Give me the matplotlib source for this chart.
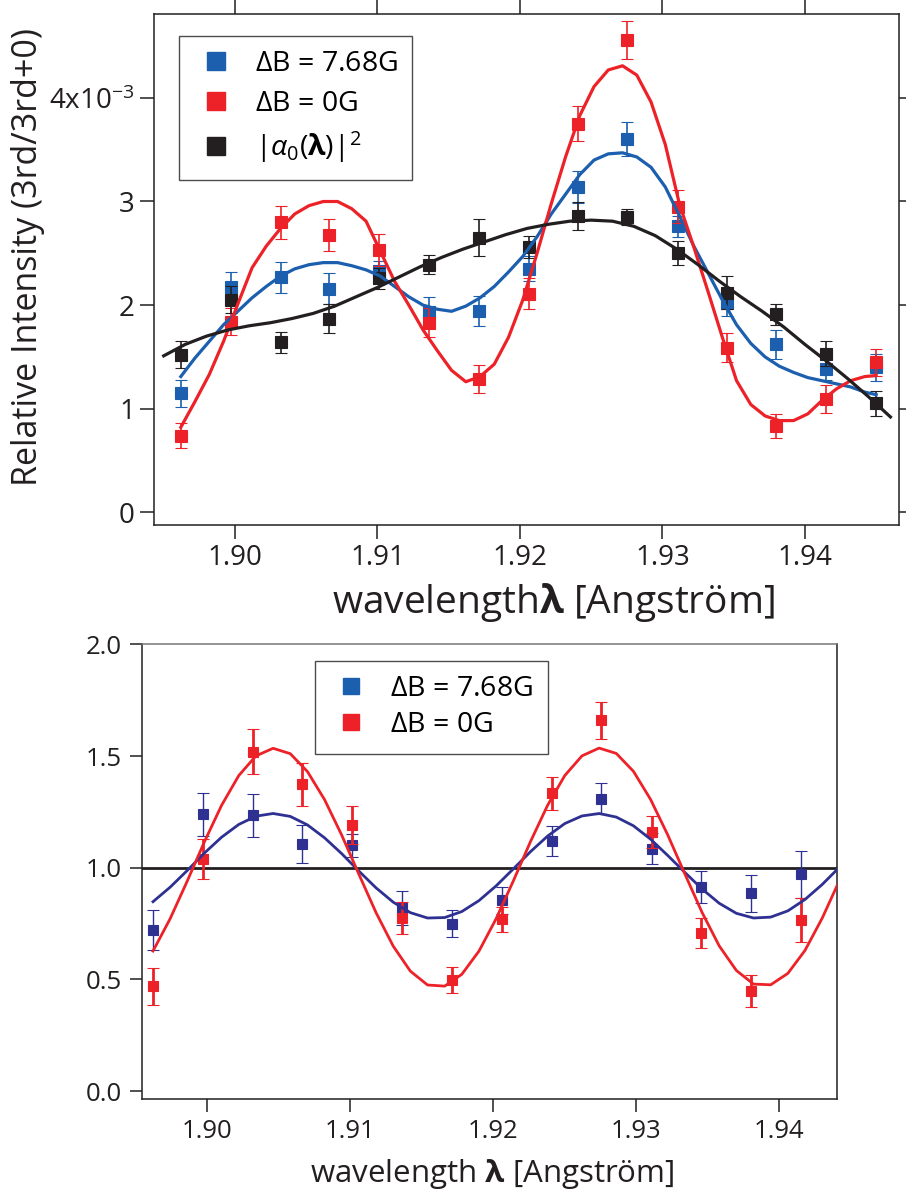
import matplotlib
matplotlib.use("Agg")
import matplotlib.pyplot as plt
from matplotlib.lines import Line2D

# ------------------------------------------------------------
# Fonts
# ------------------------------------------------------------
plt.rcParams['font.family'] = ['Open Sans', 'DejaVu Sans']
plt.rcParams['mathtext.fontset'] = 'custom'
plt.rcParams['mathtext.rm'] = 'Open Sans'
plt.rcParams['mathtext.it'] = 'Open Sans:italic'
plt.rcParams['mathtext.bf'] = 'Open Sans:bold'

# ------------------------------------------------------------
# Data
# ------------------------------------------------------------
wl = [1.8962, 1.8997, 1.9032, 1.9066, 1.9101, 1.9136, 1.9171, 1.9206,
      1.9241, 1.9275, 1.9311, 1.9345, 1.9380, 1.9415, 1.9450]

# top panel, units of 1e-3
blue_top = [1.15, 2.17, 2.27, 2.16, 2.33, 1.93, 1.94, 2.35, 3.14, 3.60, 2.76, 2.02, 1.62, 1.38, 1.40]
blue_top_err = [0.13, 0.15, 0.15, 0.145, 0.10, 0.15, 0.145, 0.12, 0.155, 0.165, 0.10, 0.13, 0.14, 0.10, 0.13]
red_top = [0.74, 1.84, 2.80, 2.68, 2.53, 1.83, 1.29, 2.11, 3.75, 4.56, 2.95, 1.59, 0.83, 1.09, 1.45]
red_top_err = [0.12, 0.13, 0.16, 0.155, 0.155, 0.14, 0.135, 0.15, 0.17, 0.185, 0.16, 0.14, 0.115, 0.135, 0.13]
black_top = [1.52, 2.05, 1.64, 1.87, 2.26, 2.39, 2.65, 2.56, 2.86, 2.85, 2.50, 2.12, 1.91, 1.53, 1.05]
black_top_err = [0.13, 0.13, 0.10, 0.14, 0.10, 0.09, 0.18, 0.11, 0.135, 0.075, 0.115, 0.16, 0.10, 0.12, 0.12]

# fitted curves, top panel (read every 0.001 A)
fit_x_top = [1.8962, 1.8972, 1.8982, 1.8992, 1.9002, 1.9012, 1.9022, 1.9032, 1.9042, 1.9052,
             1.9062, 1.9072, 1.9082, 1.9092, 1.9102, 1.9112, 1.9122, 1.9132, 1.9142, 1.9152,
             1.9162, 1.9172, 1.9182, 1.9192, 1.9202, 1.9212, 1.9222, 1.9232, 1.9242, 1.9252,
             1.9262, 1.9272, 1.9282, 1.9292, 1.9302, 1.9312, 1.9322, 1.9332, 1.9342, 1.9352,
             1.9362, 1.9372, 1.9382, 1.9392, 1.9402, 1.9412, 1.9422, 1.9432, 1.9442, 1.9450]
red_fit_top = [0.82, 1.07, 1.33, 1.65, 2.01, 2.36, 2.57, 2.74, 2.88, 2.96,
               3.00, 3.00, 2.93, 2.81, 2.52, 2.23, 2.00, 1.76, 1.56, 1.37,
               1.26, 1.31, 1.43, 1.69, 2.05, 2.50, 2.98, 3.43, 3.83, 4.11,
               4.27, 4.31, 4.22, 3.96, 3.55, 2.97, 2.56, 2.13, 1.69, 1.27,
               1.04, 0.93, 0.885, 0.885, 0.95, 1.08, 1.19, 1.27, 1.31, 1.32]
blue_fit_top = [1.31, 1.49, 1.65, 1.81, 1.94, 2.07, 2.18, 2.28, 2.35, 2.39,
                2.41, 2.41, 2.38, 2.34, 2.28, 2.18, 2.08, 2.00, 1.96, 1.94,
                1.99, 2.07, 2.18, 2.32, 2.47, 2.66, 2.88, 3.07, 3.26, 3.40,
                3.46, 3.47, 3.43, 3.33, 3.14, 2.86, 2.57, 2.31, 2.05, 1.81,
                1.63, 1.50, 1.41, 1.35, 1.30, 1.27, 1.24, 1.21, 1.16, 1.135]
black_fit_x = [1.8950, 1.8965, 1.8980, 1.8995, 1.9010, 1.9025, 1.9040, 1.9055, 1.9070, 1.9085,
               1.9100, 1.9115, 1.9130, 1.9145, 1.9160, 1.9175, 1.9190, 1.9205, 1.9220, 1.9235,
               1.9250, 1.9265, 1.9280, 1.9295, 1.9310, 1.9325, 1.9340, 1.9355, 1.9370, 1.9385,
               1.9400, 1.9415, 1.9430, 1.9445, 1.9460]
black_fit_y = [1.51, 1.62, 1.70, 1.76, 1.80, 1.83, 1.87, 1.92, 1.99, 2.08,
               2.17, 2.27, 2.37, 2.46, 2.54, 2.61, 2.68, 2.74, 2.78, 2.81,
               2.82, 2.81, 2.76, 2.67, 2.54, 2.39, 2.23, 2.08, 1.94, 1.79,
               1.62, 1.46, 1.29, 1.11, 0.92]

# bottom panel (ratio)
wl_bot = wl[:14]
blue_bot = [0.72, 1.24, 1.235, 1.105, 1.10, 0.82, 0.75, 0.855, 1.12, 1.31, 1.085, 0.913, 0.885, 0.97]
blue_bot_err = [0.09, 0.097, 0.095, 0.085, 0.05, 0.075, 0.06, 0.06, 0.066, 0.07, 0.07, 0.072, 0.083, 0.105]
red_bot = [0.47, 1.04, 1.52, 1.373, 1.19, 0.775, 0.497, 0.769, 1.333, 1.661, 1.159, 0.709, 0.448, 0.765]
red_bot_err = [0.083, 0.09, 0.10, 0.095, 0.085, 0.07, 0.057, 0.056, 0.073, 0.083, 0.072, 0.067, 0.072, 0.098]

fit_x_bot = [1.8962, 1.8974, 1.8986, 1.8998, 1.9010, 1.9022, 1.9034, 1.9046, 1.9058, 1.9070,
             1.9082, 1.9094, 1.9106, 1.9118, 1.9130, 1.9142, 1.9154, 1.9166, 1.9178, 1.9190,
             1.9202, 1.9214, 1.9226, 1.9238, 1.9250, 1.9262, 1.9274, 1.9286, 1.9298, 1.9310,
             1.9322, 1.9334, 1.9346, 1.9358, 1.9370, 1.9382, 1.9394, 1.9406, 1.9418, 1.9430,
             1.9442]
red_fit_bot = [0.627, 0.772, 0.941, 1.117, 1.280, 1.413, 1.501, 1.535, 1.511, 1.431,
               1.305, 1.146, 0.971, 0.799, 0.649, 0.537, 0.475, 0.470, 0.523, 0.627,
               0.772, 0.941, 1.117, 1.280, 1.413, 1.501, 1.536, 1.512, 1.432, 1.306,
               1.147, 0.972, 0.800, 0.650, 0.540, 0.479, 0.476, 0.527, 0.630, 0.774,
               0.942]
blue_fit_bot = [0.848, 0.913, 0.988, 1.066, 1.137, 1.194, 1.231, 1.243, 1.230, 1.192,
                1.134, 1.063, 0.985, 0.910, 0.846, 0.799, 0.775, 0.777, 0.804, 0.853,
                0.919, 0.995, 1.072, 1.142, 1.198, 1.232, 1.243, 1.227, 1.188, 1.128,
                1.055, 0.979, 0.905, 0.841, 0.796, 0.775, 0.779, 0.807, 0.858, 0.925,
                1.002]

x_ticks = [1.90, 1.91, 1.92, 1.93, 1.94]
x_ticklabels = ["1.90", "1.91", "1.92", "1.93", "1.94"]
top_yticks = [0, 1, 2, 3, 4]
top_yticklabels = ["0", "1", "2", "3", r"4x10$^{\mathregular{-3}}$"]
bot_yticks = [0.0, 0.5, 1.0, 1.5, 2.0]
bot_yticklabels = ["0.0", "0.5", "1.0", "1.5", "2.0"]

# ------------------------------------------------------------
# Colours
# ------------------------------------------------------------
BLUE = "#1b5fae"
NAVY = "#2e3192"
RED = "#ed2228"
BLACK = "#231f20"

# ------------------------------------------------------------
# Figure
# ------------------------------------------------------------
fig = plt.figure(figsize=(9.06, 11.97), dpi=100)
ax1 = fig.add_axes([0.1703, 0.5614, 0.8223, 0.4269])
ax2 = fig.add_axes([0.1564, 0.0816, 0.7678, 0.3800])

# ---------------- top panel ----------------
eb = dict(fmt='s', ms=8.6, mew=0.8, capsize=4.5, elinewidth=1.2, capthick=1.2)
ax1.errorbar(wl, blue_top, yerr=blue_top_err, color=BLUE, zorder=2, **eb)
ax1.errorbar(wl, red_top, yerr=red_top_err, color=RED, zorder=3, **eb)
ax1.errorbar(wl, black_top, yerr=black_top_err, color=BLACK, zorder=4, **eb)
ax1.plot(fit_x_top, blue_fit_top, color=BLUE, lw=2.3, zorder=5)
ax1.plot(fit_x_top, red_fit_top, color=RED, lw=2.3, zorder=5)
ax1.plot(black_fit_x, black_fit_y, color=BLACK, lw=2.3, zorder=5)

ax1.set_xlim(1.89434, 1.94662)
ax1.set_ylim(-0.123, 4.81)
ax1.set_xticks(x_ticks)
ax1.set_xticklabels(x_ticklabels)
ax1.set_yticks(top_yticks)
ax1.set_yticklabels(top_yticklabels)
ax1.tick_params(direction='out', length=10, width=1.1, color=BLACK, labelsize=20,
                labelcolor=BLACK, top=True, right=True, pad=4)
for s in ax1.spines.values():
    s.set_linewidth(1.1)
    s.set_color(BLACK)

ax1.set_xlabel(r"wavelength$\mathbf{\lambda}$ [Angström]", fontsize=28, color=BLACK)
ax1.xaxis.set_label_coords(0.536, -0.11)
ax1.set_ylabel("Relative Intensity (3rd/3rd+0)", fontsize=24.5, color=BLACK)
ax1.yaxis.set_label_coords(-0.147, 0.5245)

h_top = [Line2D([], [], marker='s', ls='none', color=BLUE, ms=13.5),
         Line2D([], [], marker='s', ls='none', color=RED, ms=13.5),
         Line2D([], [], marker='s', ls='none', color=BLACK, ms=13.5)]
lab_top = [r"$\Delta$B = 7.68G", r"$\Delta$B = 0G", r"$|\alpha_0(\mathbf{\lambda})|^2$"]
leg1 = ax1.legend(h_top, lab_top, loc='upper left', bbox_to_anchor=(0.0336, 0.9575),
                  borderaxespad=0, fontsize=20.5, frameon=True, fancybox=False,
                  edgecolor=BLACK, handlelength=1.55, handletextpad=0.6,
                  labelspacing=0.42, borderpad=0.5)
leg1.get_frame().set_linewidth(1.0)

# ---------------- bottom panel ----------------
ax2.axhline(1.0, color=BLACK, lw=2.0, zorder=1)
eb2 = dict(fmt='s', ms=7.4, mew=0.8, capsize=4.5)
ax2.errorbar(wl_bot, blue_bot, yerr=blue_bot_err, color=NAVY, zorder=2,
             elinewidth=1.0, capthick=1.0, **eb2)
ax2.errorbar(wl_bot, red_bot, yerr=red_bot_err, color=RED, zorder=3,
             elinewidth=2.0, capthick=2.0, **eb2)
ax2.plot(fit_x_bot, blue_fit_bot, color=NAVY, lw=2.0, zorder=4)
ax2.plot(fit_x_bot, red_fit_bot, color=RED, lw=2.0, zorder=4)

ax2.set_xlim(1.89541, 1.94406)
ax2.set_ylim(-0.037, 2.0)
ax2.set_xticks(x_ticks)
ax2.set_xticklabels(x_ticklabels)
ax2.set_yticks(bot_yticks)
ax2.set_yticklabels(bot_yticklabels)
ax2.tick_params(direction='out', length=9, width=1.1, color=BLACK, labelsize=18.5,
                labelcolor=BLACK, pad=5)
for s in ax2.spines.values():
    s.set_linewidth(1.1)
    s.set_color(BLACK)
ax2.spines['top'].set_color("#777777")

ax2.set_xlabel(r"wavelength $\mathbf{\lambda}$ [Angström]", fontsize=22.5, color=BLACK)
ax2.xaxis.set_label_coords(0.5043, -0.126)

h_bot = [Line2D([], [], marker='s', ls='none', color=BLUE, ms=12),
         Line2D([], [], marker='s', ls='none', color=RED, ms=12)]
lab_bot = [r"$\Delta$B = 7.68G", r"$\Delta$B = 0G"]
leg2 = ax2.legend(h_bot, lab_bot, loc='upper left', bbox_to_anchor=(0.249, 0.9644),
                  borderaxespad=0, fontsize=20.5, frameon=True, fancybox=False,
                  edgecolor=BLACK, handlelength=1.55, handletextpad=0.6,
                  labelspacing=0.3, borderpad=0.5)
leg2.get_frame().set_linewidth(1.0)

fig.savefig("out.png", dpi=100)
